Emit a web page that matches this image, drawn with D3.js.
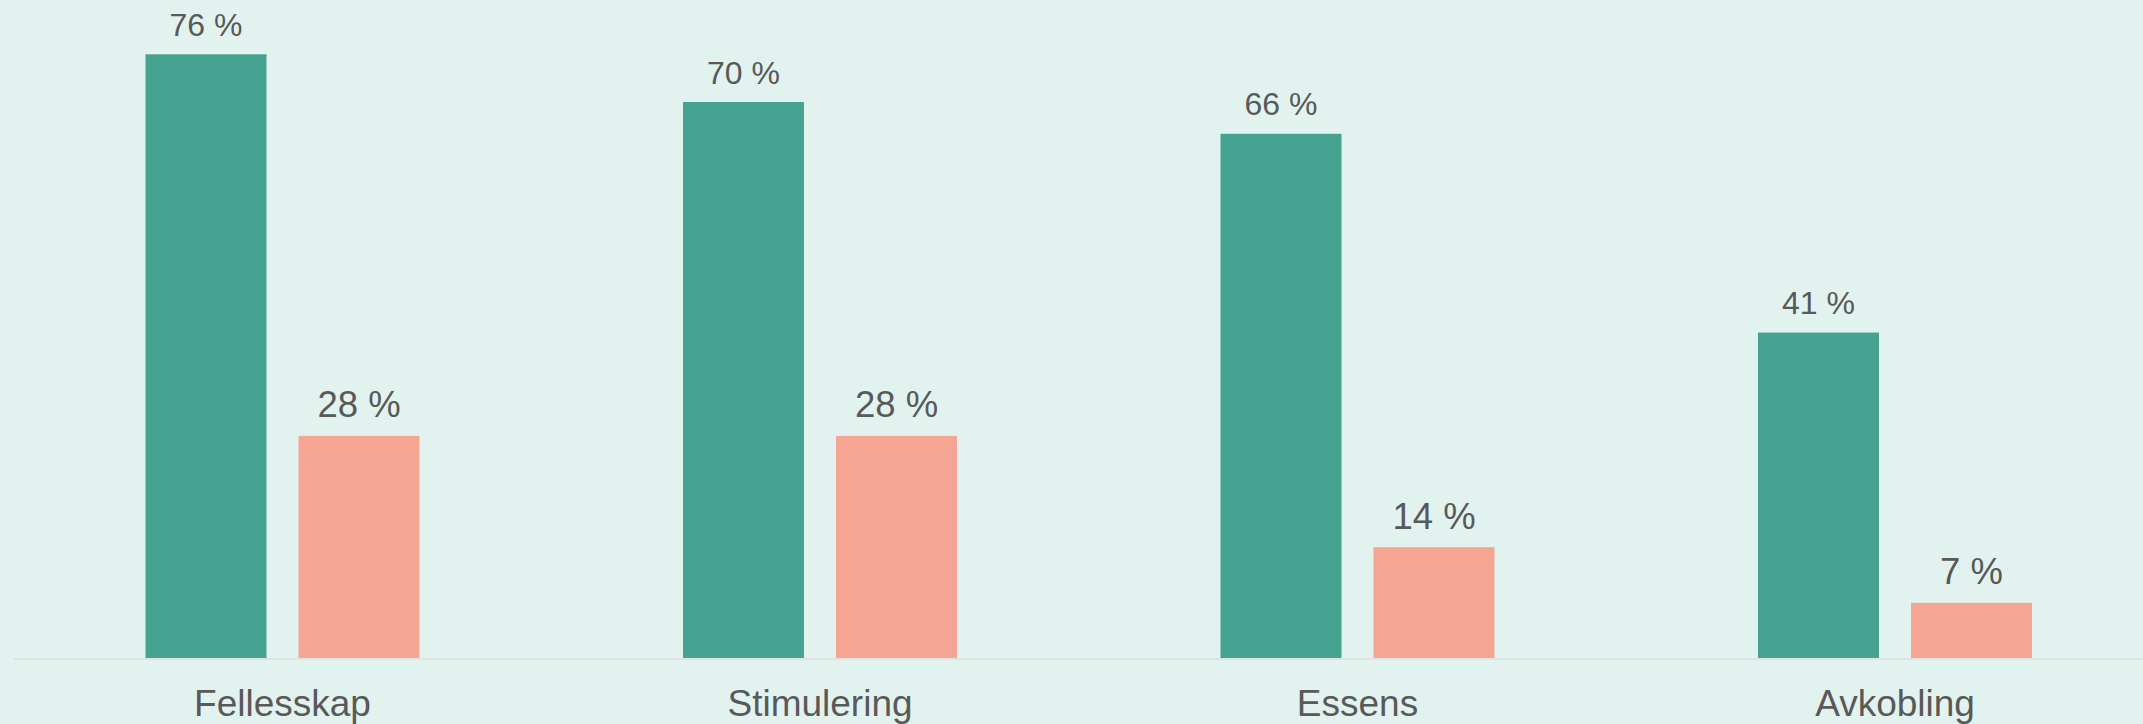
<!DOCTYPE html>
<html>
<head>
<meta charset="utf-8">
<script src="https://cdn.jsdelivr.net/npm/d3@7"></script>
<style>
  html, body { margin: 0; padding: 0; background: #e2f3ef; }
  svg { display: block; }
  text { font-family: "Liberation Sans", Arial, sans-serif; fill: #595959; }
</style>
</head>
<body>
<svg id="chart" width="2143" height="724"></svg>
<script>
// Categories and the two series shown per category (percent)
const categories = ["Fellesskap", "Stimulering", "Essens", "Avkobling"];
const seriesKeys = ["a", "b"];
const seriesA = [76, 70, 66, 41];
const seriesB = [28, 28, 14, 7];
const seriesColors = ["#46a391", "#f6a594"];
const labelSizes = [32, 36.5];

const W = 2143, H = 724;
const baseline = 658.5;

const svg = d3.select("#chart");
svg.append("rect").attr("width", W).attr("height", H).attr("fill", "#e2f3ef");

const x0 = d3.scaleBand().domain(categories).range([13.75, 2163.75]);
const groupWidth = 274;
const x1 = d3.scaleBand().domain(seriesKeys).range([0, groupWidth]).paddingInner(0.2092);
const y = d3.scaleLinear().domain([0, 100]).range([baseline, baseline - 795]);

const rows = categories.map((c, i) => ({ cat: c, values: [seriesA[i], seriesB[i]] }));

const groups = svg.selectAll("g.group")
  .data(rows)
  .join("g")
  .attr("class", "group")
  .attr("transform", d => `translate(${x0(d.cat) + (x0.bandwidth() - groupWidth) / 2},0)`);

const cells = groups.selectAll("g.cell")
  .data(d => d.values.map((v, k) => ({ key: seriesKeys[k], k, v })))
  .join("g")
  .attr("class", "cell");

cells.append("rect")
  .attr("x", d => x1(d.key))
  .attr("width", x1.bandwidth())
  .attr("y", d => y(d.v))
  .attr("height", d => y(0) - y(d.v))
  .attr("fill", d => seriesColors[d.k]);

cells.append("text")
  .attr("x", d => x1(d.key) + x1.bandwidth() / 2)
  .attr("y", d => y(d.v) - 18.5)
  .attr("text-anchor", "middle")
  .attr("font-size", d => labelSizes[d.k])
  .text(d => `${d.v} %`);

// Baseline axis with category labels
const axis = svg.append("g")
  .attr("transform", `translate(0,${baseline})`)
  .call(d3.axisBottom(x0).tickSize(0).tickPadding(0));
axis.select(".domain").remove();
axis.append("line")
  .attr("x1", 14).attr("x2", W)
  .attr("y1", 0.5).attr("y2", 0.5)
  .attr("stroke", "#dfe3e2").attr("stroke-width", 2);
axis.selectAll(".tick text")
  .attr("dy", null)
  .attr("y", 57.5)
  .attr("font-size", 37)
  .attr("font-family", "Liberation Sans, Arial, sans-serif")
  .attr("fill", "#595959");
</script>
</body>
</html>
